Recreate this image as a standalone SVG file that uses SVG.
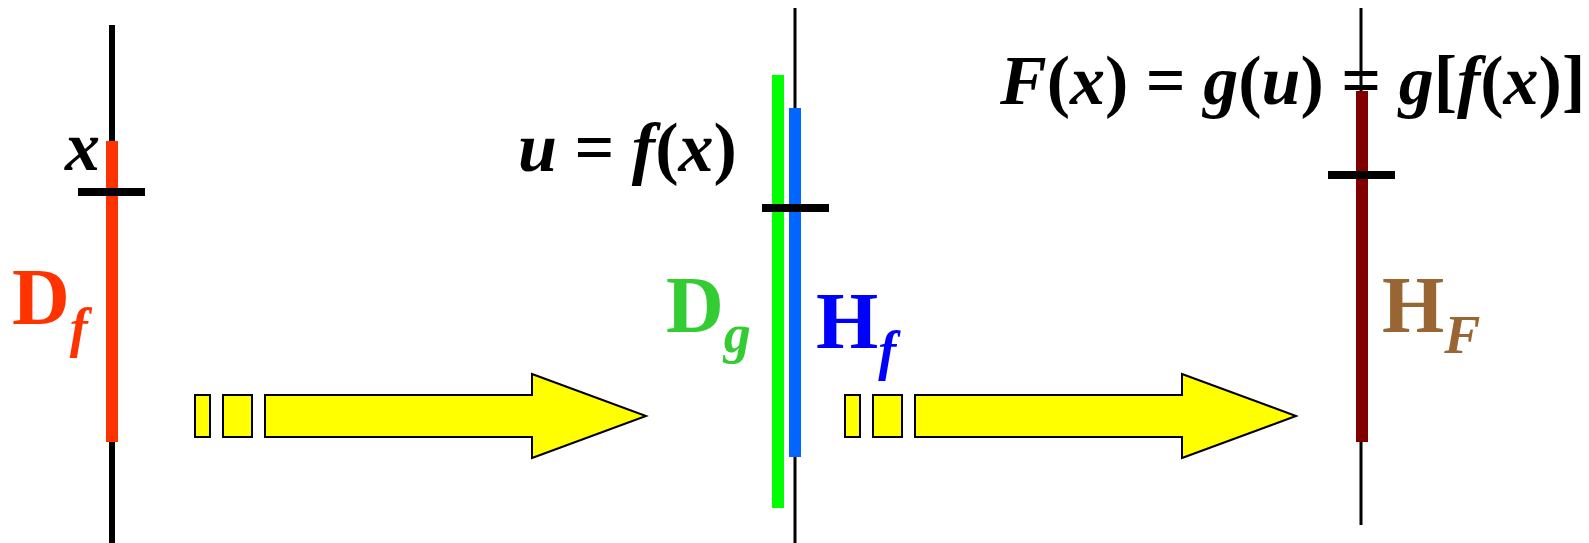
<svg xmlns="http://www.w3.org/2000/svg" width="1589" height="543" viewBox="0 0 1589 543">
<style>
text{font-family:"Liberation Serif","Times New Roman",serif;font-weight:bold}
.i{font-style:italic}
.ax{stroke:#000;fill:none}
.tk{stroke:#000;stroke-width:8}
.arw{fill:#FFFF00;stroke:#000;stroke-width:2;stroke-linejoin:miter}
</style>
<rect width="1589" height="543" fill="#fff"/>
<g id="axis-x">
<line class="ax" x1="112" y1="25" x2="112" y2="543" stroke-width="6"/>
<rect x="106" y="141" width="12" height="301" fill="#FF3300"/>
<line class="tk" x1="78" y1="192" x2="145" y2="192"/>
<text x="65" y="170" font-size="70" class="i">x</text>
<text x="12" y="324" font-size="80" fill="#FF3300">D<tspan class="i" font-size="54" dy="22">f</tspan></text>
</g>
<g id="axis-u">
<line class="ax" x1="795" y1="8" x2="795" y2="543" stroke-width="3"/>
<rect x="772" y="75" width="12" height="433" fill="#00FF00"/>
<rect x="789" y="108" width="12" height="349" fill="#0066FF"/>
<line class="tk" x1="762" y1="208" x2="829" y2="208"/>
<text x="518" y="171" font-size="70"><tspan class="i">u</tspan> = <tspan class="i">f</tspan>(<tspan class="i">x</tspan>)</text>
<text x="666" y="332" font-size="80" fill="#33CC33">D<tspan class="i" font-size="54" dy="20">g</tspan></text>
<text x="816" y="348" font-size="80" fill="#0000FF">H<tspan class="i" font-size="54" dy="21">f</tspan></text>
</g>
<g id="axis-F">
<line class="ax" x1="1361" y1="8" x2="1361" y2="525" stroke-width="3"/>
<rect x="1356" y="91" width="12" height="351" fill="#800000"/>
<line class="tk" x1="1328" y1="175" x2="1395" y2="175"/>
<text x="1000" y="104" font-size="70"><tspan class="i">F</tspan>(<tspan class="i">x</tspan>) = <tspan class="i">g</tspan>(<tspan class="i">u</tspan>) = <tspan class="i">g</tspan>[<tspan class="i">f</tspan>(<tspan class="i">x</tspan>)]</text>
<text x="1382" y="332" font-size="80" fill="#996633">H<tspan class="i" font-size="54" dy="21">F</tspan></text>
</g>
<g id="connectors">
<g id="arrow-1">
<rect class="arw" x="195" y="395" width="15" height="42"/>
<rect class="arw" x="223" y="395" width="29" height="42"/>
<polygon class="arw" points="265,395 532,395 532,374 646,416 532,458 532,437 265,437"/>
</g>
<g id="arrow-2">
<rect class="arw" x="845" y="395" width="15" height="42"/>
<rect class="arw" x="873" y="395" width="29" height="42"/>
<polygon class="arw" points="915,395 1182,395 1182,374 1296,416 1182,458 1182,437 915,437"/>
</g>
</g>
</svg>
